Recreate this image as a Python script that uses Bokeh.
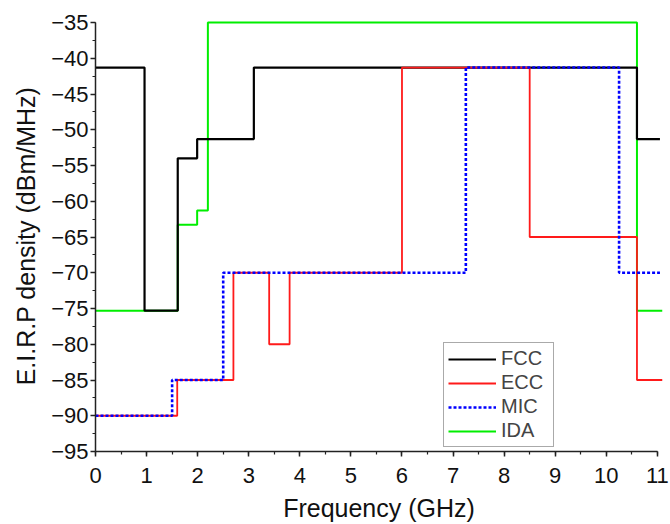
from bokeh.plotting import figure
from bokeh.models import Range1d, SingleIntervalTicker, Legend, LegendItem
from bokeh.embed import file_html
from bokeh.resources import INLINE

# Spectral masks: band edges (GHz) and EIRP density levels (dBm/MHz)
fcc_edges = [0, 0.96, 1.61, 1.99, 3.1, 10.6, 11.05]
fcc_levels = [-41.3, -75.3, -54.0, -51.3, -41.3, -51.3]

ecc_edges = [0, 1.6, 2.7, 3.4, 3.8, 6.0, 8.5, 10.6, 11.1]
ecc_levels = [-90, -85, -70, -80, -70, -41.3, -65, -85]

mic_edges = [0, 1.5, 2.5, 7.25, 10.25, 11.05]
mic_levels = [-90, -85, -70, -41.3, -70]

ida_edges = [0, 1.61, 1.99, 2.2, 10.6, 11.1]
ida_levels = [-75.3, -63.3, -61.3, -35, -75.3]

FONT = "Liberation Sans"

p = figure(width=670, height=524, output_backend="svg", toolbar_location=None,
           x_range=Range1d(0, 11.1), y_range=Range1d(-95, -34.72),
           min_border_left=95, min_border_right=8, min_border_top=20, min_border_bottom=72)
p.outline_line_color = None
p.xgrid.grid_line_color = None
p.ygrid.grid_line_color = None
p.background_fill_color = "white"
p.border_fill_color = "white"


def stepped(edges, levels):
    return list(edges), list(levels) + [levels[-1]]


x, y = stepped(ida_edges, ida_levels)
r_ida = p.step(x, y, mode="after", line_color="#00ee00", line_width=2)
x, y = stepped(fcc_edges, fcc_levels)
r_fcc = p.step(x, y, mode="after", line_color="black", line_width=2.2)
x, y = stepped(ecc_edges, ecc_levels)
r_ecc = p.step(x, y, mode="after", line_color="#ff1a1a", line_width=1.8)
x, y = stepped(mic_edges, mic_levels)
r_mic = p.step(x, y, mode="after", line_color="#0000ff", line_width=2.6, line_dash="3 2")

legend = Legend(items=[LegendItem(label="FCC", renderers=[r_fcc]),
                       LegendItem(label="ECC", renderers=[r_ecc]),
                       LegendItem(label="MIC", renderers=[r_mic]),
                       LegendItem(label="IDA", renderers=[r_ida])],
                location=(348, 4), orientation="vertical")
legend.label_text_font = FONT
legend.label_text_font_size = "20px"
legend.glyph_width = 48
legend.glyph_height = 20
legend.label_height = 20
legend.label_width = 48
legend.label_standoff = 5
legend.spacing = 1
legend.padding = 4
legend.margin = 0
legend.border_line_color = "#555555"
legend.border_line_width = 1
legend.background_fill_alpha = 1
p.add_layout(legend, "center")

xa = p.xaxis[0]
xa.ticker = SingleIntervalTicker(interval=1, num_minor_ticks=2)
xa.bounds = (0, 11)
xa.axis_label = "Frequency (GHz)"
ya = p.yaxis[0]
ya.ticker = SingleIntervalTicker(interval=5, num_minor_ticks=2)
ya.bounds = (-95, -35)
ya.axis_label = "E.I.R.P density (dBm/MHz)"

for ax in (xa, ya):
    ax.axis_line_color = "#222222"
    ax.axis_line_width = 1.5
    ax.major_tick_line_color = "#222222"
    ax.minor_tick_line_color = "#222222"
    ax.major_tick_line_width = 1.5
    ax.minor_tick_line_width = 1.2
    ax.major_tick_in = 0
    ax.major_tick_out = 5
    ax.minor_tick_in = 0
    ax.minor_tick_out = 3
    ax.major_label_text_font = FONT
    ax.major_label_text_font_size = "22px"
    ax.major_label_text_color = "#111111"
    ax.axis_label_text_font = FONT
    ax.axis_label_text_font_size = "25px"
    ax.axis_label_text_font_style = "normal"
    ax.axis_label_text_color = "#111111"

xa.major_label_standoff = 11
xa.axis_label_standoff = 8
ya.major_label_standoff = 2
ya.axis_label_standoff = 8

open("out.html", "w").write(file_html(p, INLINE))
